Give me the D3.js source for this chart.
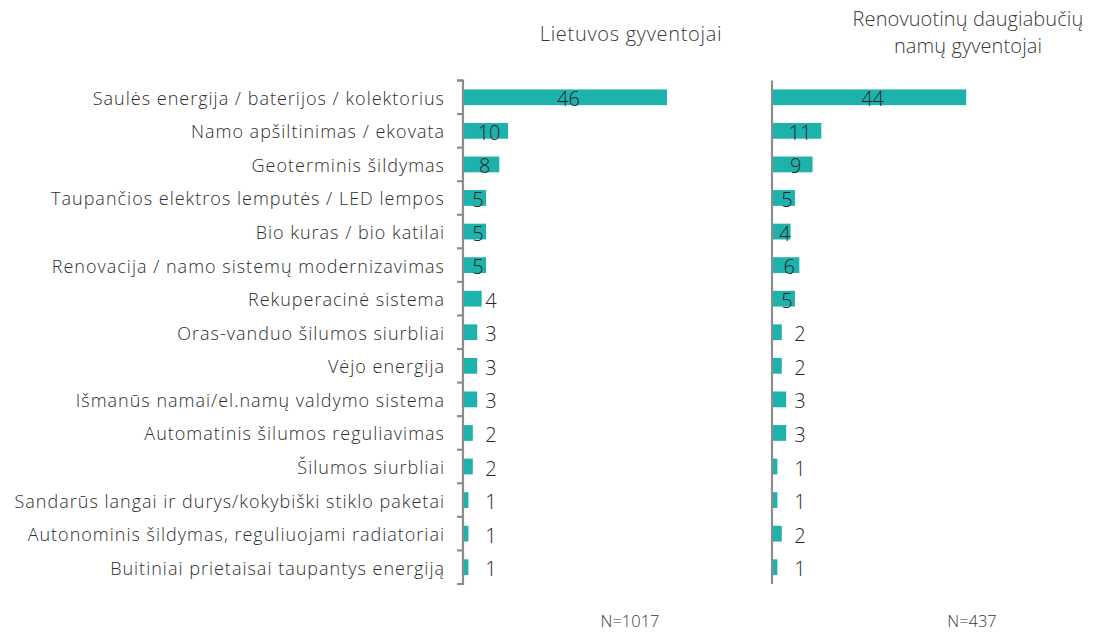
<!DOCTYPE html>
<html><head><meta charset="utf-8">
<script src="https://cdn.jsdelivr.net/npm/d3@7/dist/d3.min.js"></script>
<style>
body{margin:0;background:#fff;}
text{font-family:"Open Sans","Noto Sans",sans-serif;fill:#262626;font-weight:350;}
</style></head>
<body><svg id="c" width="1099" height="632"></svg>
<script>
const categories = [
  "Saulės energija / baterijos / kolektorius",
  "Namo apšiltinimas / ekovata",
  "Geoterminis šildymas",
  "Taupančios elektros lemputės / LED lempos",
  "Bio kuras /  bio katilai",
  "Renovacija / namo sistemų modernizavimas",
  "Rekuperacinė sistema",
  "Oras-vanduo šilumos siurbliai",
  "Vėjo energija",
  "Išmanūs namai/el.namų valdymo sistema",
  "Automatinis šilumos reguliavimas",
  "Šilumos siurbliai",
  "Sandarūs langai ir durys/kokybiški stiklo paketai",
  "Autonominis šildymas, reguliuojami radiatoriai",
  "Buitiniai prietaisai taupantys energiją"
];
const lietuvos = [46,10,8,5,5,5,4,3,3,3,2,2,1,1,1];
const renovuotinu = [44,11,9,5,4,6,5,2,2,3,3,1,1,2,1];
const titles = [["Lietuvos gyventojai"],["Renovuotinų daugiabučių","namų gyventojai"]];
const sampleSizes = ["N=1017","N=437"];

const svg = d3.select("#c");
const color = "#1EB2AD";
const y = d3.scaleBand().domain(categories).range([80.5,584]).paddingInner(0.53).paddingOuter(0.265);

const panels = [
  {x0:463, w:203, values:lietuvos, ticks:true, insideMin:5, titleX:631, titleLS:0.7, nX:630},
  {x0:772, w:202, values:renovuotinu, ticks:false, insideMin:4, titleX:968, titleLS:0.1, nX:972}
];

panels.forEach((p,i)=>{
  const x = d3.scaleLinear().domain([0,46]).range([p.x0, p.x0+p.w]);
  const g = svg.append("g");
  g.selectAll("rect").data(p.values).enter().append("rect")
    .attr("x", x(0)+1)
    .attr("y", (d,j)=>y(categories[j]))
    .attr("width", d=>x(d)-x(0))
    .attr("height", y.bandwidth())
    .attr("fill", color);
  const ax = d3.axisLeft(y).tickSize(0).tickFormat("");
  const axg = g.append("g").attr("transform",`translate(${p.x0},0)`).call(ax);
  axg.selectAll(".tick").remove();
  axg.select(".domain").attr("stroke","#8c8c8c").attr("stroke-width",2.2)
    .attr("d", p.ticks ? "M-6,80.5H0V584H-6" : "M0,80.5V584");
  if (p.ticks){
    const step = y.step();
    const bounds = d3.range(categories.length+1).map(k=>80.5+k*step);
    g.selectAll("line.tk").data(bounds).enter().append("line")
      .attr("x1",p.x0-6).attr("x2",p.x0).attr("y1",d=>d).attr("y2",d=>d)
      .attr("stroke","#8c8c8c").attr("stroke-width",2.2);
  }
  g.selectAll("text.v").data(p.values).enter().append("text")
    .attr("x", d=> d>=p.insideMin ? (x(0)+x(d))/2+4 : p.x0+28)
    .attr("y", (d,j)=>y(categories[j])+y.bandwidth()/2+9)
    .attr("text-anchor","middle")
    .style("font-size","20px")
    .text(d=>d);
  const t = svg.append("text").attr("text-anchor","middle").style("font-size","20px")
    .style("letter-spacing", p.titleLS+"px").style("fill","#3a3a3a");
  titles[i].forEach((s,k)=>{
    t.append("tspan").attr("x",p.titleX).attr("y", titles[i].length>1 ? 26+k*27 : 41).text(s);
  });
  svg.append("text").attr("x",p.nX).attr("y",627).attr("text-anchor","middle")
    .style("font-size","16.5px").style("fill","#3a3a3a").text(sampleSizes[i]);
});

svg.append("g").selectAll("text").data(categories).enter().append("text")
  .attr("x",445).attr("y",d=>y(d)+y.bandwidth()/2+7.5)
  .attr("text-anchor","end")
  .style("font-size","18px").style("letter-spacing","1px").style("fill","#2e2e2e")
  .text(d=>d);
</script></body></html>
